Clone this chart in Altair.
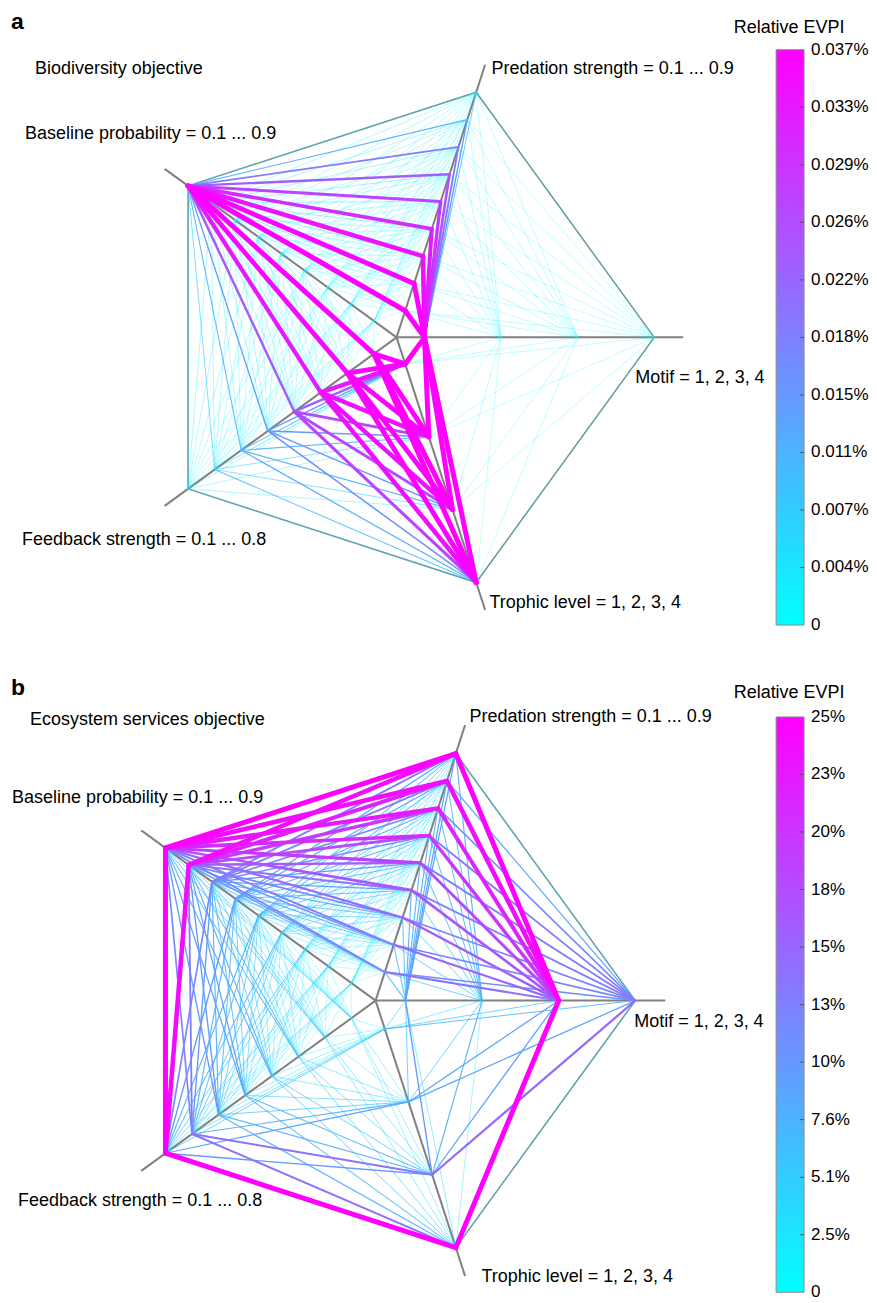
import math
import pandas as pd
import altair as alt

FONT = "Liberation Sans"

# ---- axes ----
AXES = ["Predation", "Motif", "Trophic", "Feedback", "Baseline"]
AXIS_ANGLES = [72, 0, -72, -144, 144]
N_LEVELS = [9, 4, 4, 8, 9]
AXIS_LABELS = ["Predation strength = 0.1 ... 0.9", "Motif = 1, 2, 3, 4",
               "Trophic level = 1, 2, 3, 4", "Feedback strength = 0.1 ... 0.8",
               "Baseline probability = 0.1 ... 0.9"]
PAIRS = [("Predation", "Motif"), ("Motif", "Trophic"), ("Trophic", "Feedback"),
         ("Feedback", "Baseline"), ("Baseline", "Predation")]
CMAP = ["#00ffff", "#ff00ff"]

# ---- panel a: Biodiversity objective, relative EVPI (%) ----
A_PRED_MOTIF = [
    [0.0370, 0.0016, 0.0013, 0.0011],
    [0.0362, 0.0016, 0.0013, 0.0011],
    [0.0348, 0.0015, 0.0012, 0.0010],
    [0.0322, 0.0015, 0.0012, 0.0010],
    [0.0288, 0.0014, 0.0012, 0.0010],
    [0.0245, 0.0014, 0.0011, 0.0010],
    [0.0195, 0.0013, 0.0011, 0.0009],
    [0.0145, 0.0013, 0.0011, 0.0009],
    [0.0095, 0.0012, 0.0010, 0.0009],
]
A_MOTIF_TROPHIC = [
    [0.0368, 0.0366, 0.0362, 0.0367],
    [0.0013, 0.0012, 0.0011, 0.0010],
    [0.0012, 0.0011, 0.0010, 0.0010],
    [0.0011, 0.0010, 0.0010, 0.0009],
]
A_TROPHIC_FEEDBACK = [
    [0.0365, 0.0358, 0.0335, 0.0230, 0.0140, 0.0110, 0.0070, 0.0035],
    [0.0368, 0.0360, 0.0340, 0.0260, 0.0150, 0.0110, 0.0065, 0.0030],
    [0.0368, 0.0361, 0.0342, 0.0265, 0.0150, 0.0115, 0.0070, 0.0035],
    [0.0370, 0.0363, 0.0346, 0.0272, 0.0160, 0.0125, 0.0100, 0.0060],
]
A_FEEDBACK_BASELINE = [
    [0.0010, 0.0011, 0.0012, 0.0013, 0.0014, 0.0016, 0.0018, 0.0022, 0.0365],
    [0.0010, 0.0011, 0.0012, 0.0013, 0.0015, 0.0017, 0.0019, 0.0023, 0.0355],
    [0.0010, 0.0011, 0.0012, 0.0014, 0.0015, 0.0017, 0.0020, 0.0024, 0.0332],
    [0.0011, 0.0012, 0.0013, 0.0014, 0.0016, 0.0018, 0.0021, 0.0025, 0.0235],
    [0.0011, 0.0012, 0.0013, 0.0015, 0.0016, 0.0019, 0.0022, 0.0026, 0.0140],
    [0.0011, 0.0012, 0.0014, 0.0015, 0.0017, 0.0019, 0.0023, 0.0027, 0.0110],
    [0.0012, 0.0013, 0.0014, 0.0016, 0.0018, 0.0020, 0.0024, 0.0028, 0.0075],
    [0.0012, 0.0013, 0.0015, 0.0016, 0.0018, 0.0021, 0.0025, 0.0030, 0.0050],
]
A_BASELINE_PRED = [
    [0.0010, 0.0010, 0.0011, 0.0011, 0.0012, 0.0012, 0.0013, 0.0013, 0.0014],
    [0.0011, 0.0011, 0.0012, 0.0012, 0.0013, 0.0013, 0.0014, 0.0014, 0.0015],
    [0.0012, 0.0012, 0.0013, 0.0013, 0.0014, 0.0014, 0.0015, 0.0015, 0.0016],
    [0.0013, 0.0013, 0.0014, 0.0014, 0.0015, 0.0015, 0.0016, 0.0016, 0.0017],
    [0.0014, 0.0014, 0.0015, 0.0015, 0.0016, 0.0016, 0.0017, 0.0017, 0.0018],
    [0.0015, 0.0016, 0.0016, 0.0017, 0.0017, 0.0018, 0.0018, 0.0019, 0.0019],
    [0.0017, 0.0018, 0.0018, 0.0019, 0.0019, 0.0020, 0.0020, 0.0021, 0.0021],
    [0.0050, 0.0048, 0.0046, 0.0044, 0.0042, 0.0040, 0.0036, 0.0032, 0.0028],
    [0.0370, 0.0360, 0.0340, 0.0305, 0.0270, 0.0232, 0.0188, 0.0118, 0.0050],
]
A_TICK_LABELS = ["0", "0.004%", "0.007%", "0.011%", "0.015%", "0.018%",
                 "0.022%", "0.026%", "0.029%", "0.033%", "0.037%"]
A_VMAX = 0.0367

# ---- panel b: Ecosystem services objective, relative EVPI (%) ----
B_PRED_MOTIF = [
    [7, 6, 14, 11],
    [7, 6, 15, 12],
    [7, 6, 16, 12],
    [8, 6, 17, 13],
    [8, 7, 18, 13],
    [8, 7, 20, 13],
    [8, 7, 22, 12],
    [9, 7, 24, 9],
    [9, 8, 25.3, 4],
]
B_MOTIF_TROPHIC = [
    [5, 6, 10, 4],
    [4, 6, 8, 3],
    [6, 9, 9, 25.3],
    [7, 9, 15, 4],
]
B_TROPHIC_FEEDBACK = [
    [2, 2, 2, 3, 3, 4, 5, 6],
    [3, 3, 4, 4, 5, 6, 8, 9],
    [3, 4, 5, 6, 7, 8, 14, 10],
    [3, 4, 5, 6, 7, 8, 14, 25.3],
]
B_FEEDBACK_BASELINE = [
    [1, 1.5, 1.5, 2, 2, 3, 3, 5, 5],
    [1.5, 1.5, 2, 2, 3, 3, 4, 6, 6],
    [1.5, 2, 2, 3, 3, 4, 5, 7, 7],
    [2, 2, 3, 3, 4, 5, 6, 8, 8],
    [2, 3, 3, 4, 5, 6, 7, 9, 9],
    [3, 3, 4, 5, 6, 7, 8, 10, 10],
    [3, 4, 5, 6, 7, 8, 10, 13, 12],
    [4, 5, 6, 7, 8, 10, 12, 24, 25.3],
]
B_BASELINE_PRED = [
    [1, 1, 1.5, 1.5, 2, 2, 2, 2, 2],
    [1.5, 2, 2, 2, 2, 3, 3, 3, 3],
    [2, 2, 3, 3, 3, 3, 4, 4, 4],
    [3, 3, 4, 4, 4, 5, 5, 5, 6],
    [4, 4, 5, 5, 6, 6, 6, 7, 7],
    [5, 6, 6, 7, 7, 8, 8, 9, 9],
    [7, 8, 8, 9, 10, 11, 12, 13, 13],
    [10, 11, 12, 14, 16, 18, 20, 22, 24],
    [12, 13, 15, 17, 19, 21, 23, 24, 25.3],
]
B_TICK_LABELS = ["0", "2.5%", "5.1%", "7.6%", "10%", "13%", "15%", "18%",
                 "20%", "23%", "25%"]
B_VMAX = 25.3


def level_xy(geo, axis, lvl):
    cx, cy, R, r0 = geo
    i = AXES.index(axis)
    n = N_LEVELS[i]
    r = r0 + (R - r0) * lvl / (n - 1)
    a = math.radians(AXIS_ANGLES[i])
    return cx + r * math.cos(a), cy - r * math.sin(a)


def build_panel(mats, geo, W, H, vmax, tick_labels, letter, texts,
                bar, title_xy, ext):
    cx, cy, R, r0 = geo
    xs = alt.Scale(domain=[0, W], nice=False, zero=False)
    ys = alt.Scale(domain=[0, H], nice=False, zero=False, reverse=True)

    def xy():
        return dict(x=alt.X("x:Q", scale=xs, axis=None),
                    y=alt.Y("y:Q", scale=ys, axis=None))

    # axes
    ax_rows = []
    for ang in AXIS_ANGLES:
        a = math.radians(ang)
        ax_rows.append({"x": cx, "y": cy, "x2": cx + ext * math.cos(a),
                        "y2": cy - ext * math.sin(a)})
    axes = alt.Chart(pd.DataFrame(ax_rows)).mark_rule(
        color="#808080", strokeWidth=2).encode(**xy(), x2="x2:Q", y2="y2:Q")

    # outline (outer levels of neighbouring axes)
    ol_rows = []
    for (A, B) in PAIRS:
        x1, y1 = level_xy(geo, A, N_LEVELS[AXES.index(A)] - 1)
        x2, y2 = level_xy(geo, B, N_LEVELS[AXES.index(B)] - 1)
        ol_rows.append({"x": x1, "y": y1, "x2": x2, "y2": y2})
    outline = alt.Chart(pd.DataFrame(ol_rows)).mark_rule(
        color="#6f8c8c", strokeWidth=1.5).encode(**xy(), x2="x2:Q", y2="y2:Q")

    # edges between levels of neighbouring axes
    rows = []
    for (A, B), M in zip(PAIRS, mats):
        for i, row in enumerate(M):
            for j, v in enumerate(row):
                x1, y1 = level_xy(geo, A, i)
                x2, y2 = level_xy(geo, B, j)
                rows.append({"x": x1, "y": y1, "x2": x2, "y2": y2, "v": v})
    df = pd.DataFrame(rows).sort_values("v").reset_index(drop=True)
    df["ord"] = range(len(df))
    df["w"] = df["v"]
    df["o"] = df["v"]
    edges = alt.Chart(df).mark_rule(strokeCap="round").encode(
        **xy(), x2="x2:Q", y2="y2:Q",
        color=alt.Color("v:Q", scale=alt.Scale(domain=[0, vmax], range=CMAP,
                                               interpolate="rgb"), legend=None),
        size=alt.Size("w:Q", scale=alt.Scale(type="pow", exponent=2,
                                             domain=[0, vmax], range=[0.7, 5]),
                      legend=None),
        opacity=alt.Opacity("o:Q", scale=alt.Scale(domain=[0, vmax * 0.35],
                                                   range=[0.3, 1], clamp=True),
                            legend=None),
        order="ord:Q")

    # colour bar
    bx, by, bw, blen = bar
    grad = alt.LinearGradient(
        gradient="linear", x1=0, x2=0, y1=1, y2=0,
        stops=[alt.GradientStop(offset=0, color=CMAP[0]),
               alt.GradientStop(offset=1, color=CMAP[1])])
    bar_df = pd.DataFrame([{"x": bx, "x2": bx + bw, "y": by, "y2": by + blen}])
    cbar = alt.Chart(bar_df).mark_rect(color=grad, stroke="#8c8c8c",
                                       strokeWidth=1).encode(
        **xy(), x2="x2:Q", y2="y2:Q")
    n = len(tick_labels)
    tick_df = pd.DataFrame({
        "label": tick_labels,
        "y": [by + blen - blen * k / (n - 1) for k in range(n)],
    })
    tick_df["x"] = bx + bw + 7
    tick_df["tx"] = bx + bw - 4
    tick_df["tx2"] = bx + bw
    ticks = alt.Chart(tick_df.iloc[1:-1]).mark_rule(color="#555555",
                                                    strokeWidth=1).encode(
        x=alt.X("tx:Q", scale=xs, axis=None), x2="tx2:Q",
        y=alt.Y("y:Q", scale=ys, axis=None))
    tick_labels_t = alt.Chart(tick_df).mark_text(
        align="left", baseline="middle", font=FONT, fontSize=17,
        color="black").encode(**xy(), text="label:N")

    # texts
    tdf = pd.DataFrame(texts, columns=["x", "y", "label"])
    labels = alt.Chart(tdf).mark_text(align="left", baseline="middle", font=FONT,
                                      fontSize=18, color="black").encode(
        **xy(), text="label:N")
    letter_df = pd.DataFrame([letter], columns=["x", "y", "label"])
    letter_t = alt.Chart(letter_df).mark_text(align="left", baseline="middle",
                                              font=FONT, fontSize=23,
                                              fontWeight="bold", color="black").encode(
        **xy(), text="label:N")
    title_df = pd.DataFrame([[title_xy[0], title_xy[1], "Relative EVPI"]],
                            columns=["x", "y", "label"])
    title_t = alt.Chart(title_df).mark_text(align="center", baseline="middle",
                                            font=FONT, fontSize=18,
                                            color="black").encode(
        **xy(), text="label:N")

    return alt.layer(axes, outline, edges, cbar, ticks, tick_labels_t, labels,
                     letter_t, title_t).properties(width=W, height=H)


W = 861
HA, HB = 660, 627

geo_a = (389, 329, 258, 28)
texts_a = [
    [27, 60, "Biodiversity objective"],
    [484, 60, AXIS_LABELS[0]],
    [628, 370, AXIS_LABELS[1]],
    [482, 595, AXIS_LABELS[2]],
    [14, 532, AXIS_LABELS[3]],
    [17, 125, AXIS_LABELS[4]],
]
panel_a = build_panel(
    [A_PRED_MOTIF, A_MOTIF_TROPHIC, A_TROPHIC_FEEDBACK, A_FEEDBACK_BASELINE,
     A_BASELINE_PRED],
    geo_a, W, HA, A_VMAX, A_TICK_LABELS, [3, 13, "a"],
    texts_a, (769, 41, 28, 576), (782, 19), 287)

geo_b = (368, 333, 260, 30)
texts_b = [
    [22, 52, "Ecosystem services objective"],
    [462, 49, AXIS_LABELS[0]],
    [627, 354, AXIS_LABELS[1]],
    [474, 610, AXIS_LABELS[2]],
    [10, 534, AXIS_LABELS[3]],
    [4, 130, AXIS_LABELS[4]],
]
panel_b = build_panel(
    [B_PRED_MOTIF, B_MOTIF_TROPHIC, B_TROPHIC_FEEDBACK, B_FEEDBACK_BASELINE,
     B_BASELINE_PRED],
    geo_b, W, HB, B_VMAX, B_TICK_LABELS, [3, 20, "b"],
    texts_b, (769, 49, 28, 576), (782, 25), 290)

chart = alt.vconcat(panel_a, panel_b, spacing=0).resolve_scale(
    color="independent", size="independent", opacity="independent",
    x="independent", y="independent").properties(padding=0).configure_view(
    stroke=None)

chart.save("out.html", embed_options={"renderer": "svg", "actions": False})
